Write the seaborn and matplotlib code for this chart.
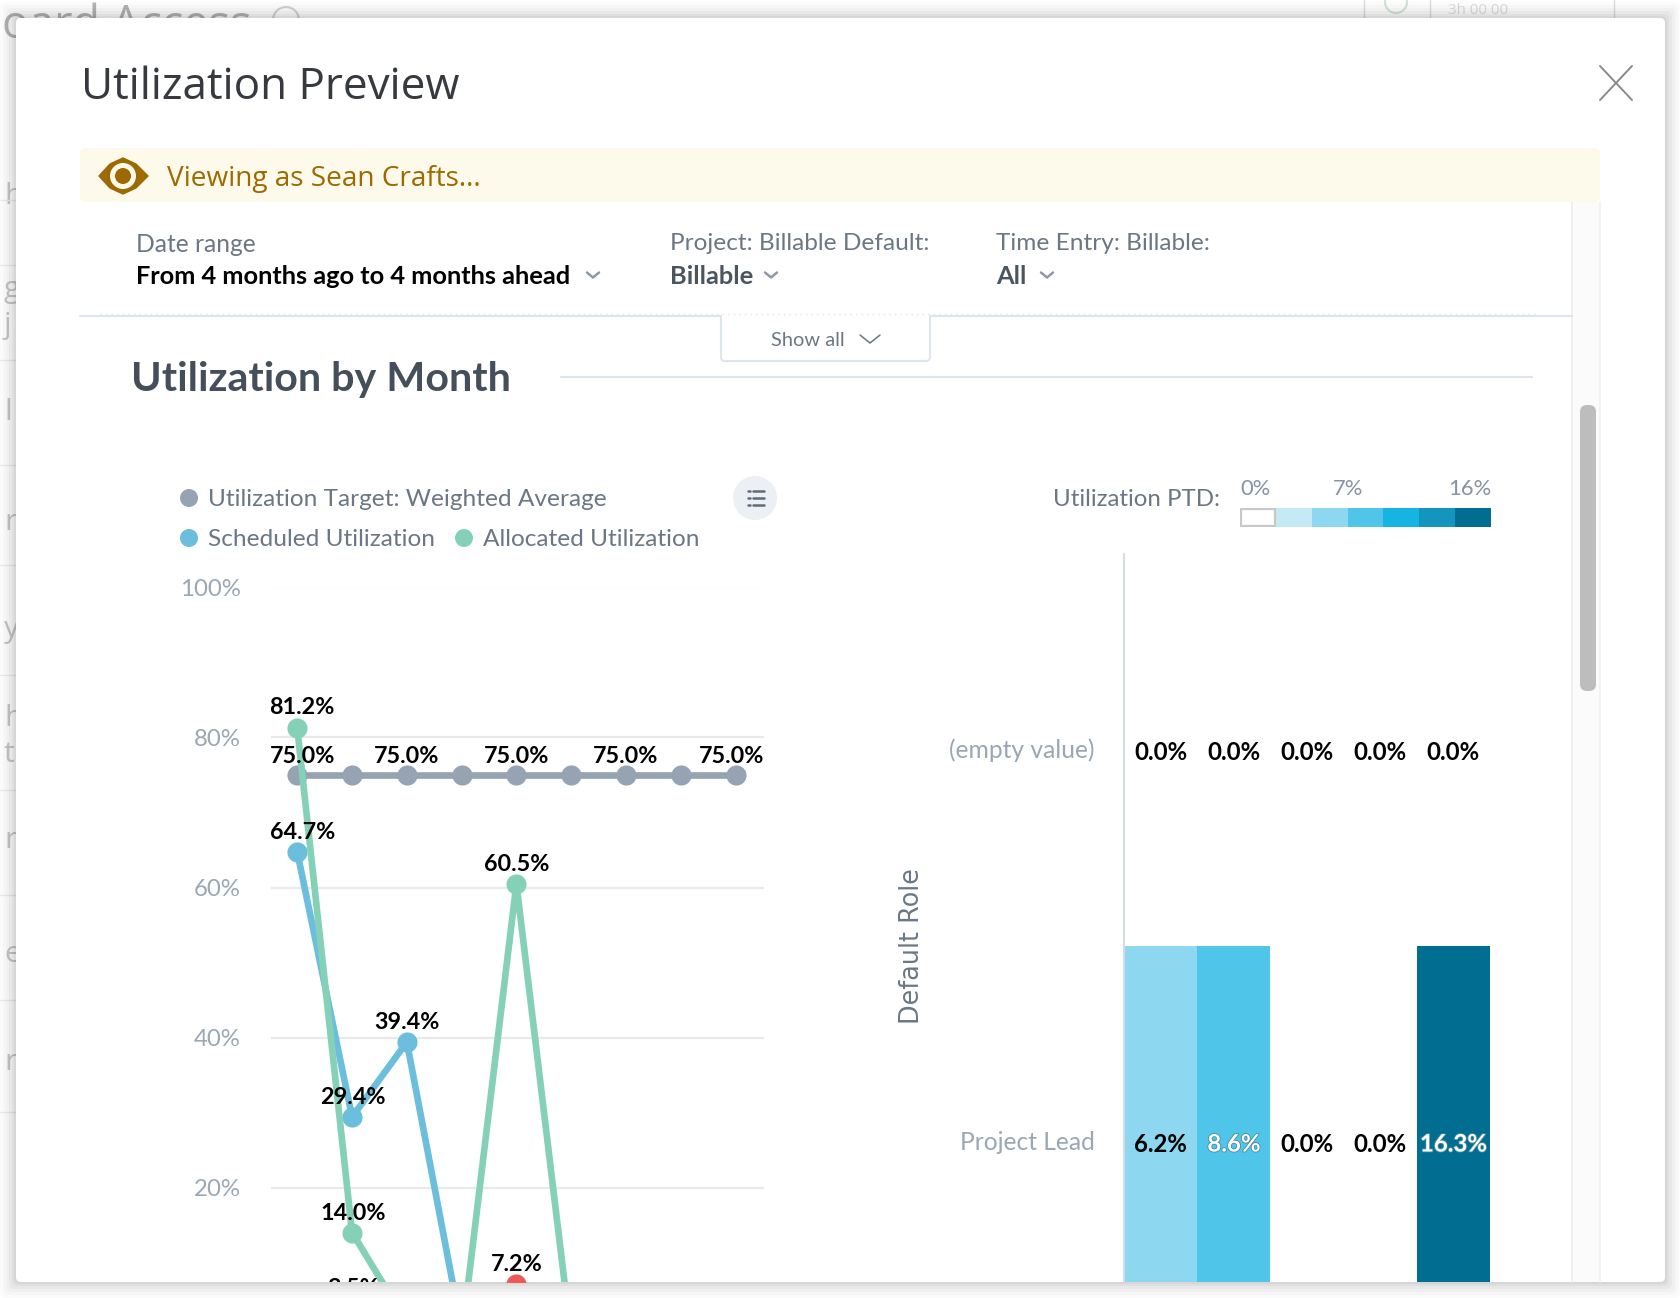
import numpy as np
import pandas as pd
import matplotlib
matplotlib.use("Agg")
import matplotlib.pyplot as plt
import matplotlib.patheffects as pe
from matplotlib.colors import ListedColormap
from matplotlib.patches import FancyBboxPatch, Rectangle, Circle, Polygon
import seaborn as sns

###################################### data ##############################################
months = list(range(9))
target = [75.0] * 9
scheduled = [64.7, 29.4, 39.4, 1.0, 0.0, 0.0, 0.0, 0.0, 0.0]   # tail is below the crop, estimated
allocated = [81.2, 14.0, 2.0, 0.0, 60.5, 0.0, 0.0, 0.0, 0.0]
under_months = [1, 4]
under_values = [3.5, 7.2]
series_names = ["Utilization Target: Weighted Average", "Scheduled Utilization", "Allocated Utilization"]

roles = ["(empty value)", "Project Lead"]
ptd_empty = [0.0, 0.0, 0.0, 0.0, 0.0]
ptd_lead = [6.2, 8.6, 0.0, 0.0, 16.3]
ptd_colors = ["#FFFFFF", "#C3EAF5", "#8DD7F0", "#50C5EA", "#16B4E2", "#1495BD", "#006D91"]
y_ticks = [20, 40, 60, 80, 100]

GREY, BLUE, GREEN, RED = "#95A3B3", "#6BBFDC", "#85D1B7", "#EC5B55"
W, H = 1680, 1298
px = 0.72  # font px -> pt at dpi 100

sns.set_theme(style="white")
plt.rcParams["font.family"] = ["Lato", "DejaVu Sans"]
fig = plt.figure(figsize=(W / 100, H / 100), dpi=100, facecolor="white")


def box(x0, y0, x1, y1):
    # pixel box (y down) to figure fraction
    return [x0 / W, 1 - y1 / H, (x1 - x0) / W, (y1 - y0) / H]


###################################### page + modal ##############################################
bg = fig.add_axes([0, 0, 1, 1], zorder=0)
bg.set_xlim(0, W)
bg.set_ylim(H, 0)
bg.axis("off")

# bits of the page behind the modal, all at zorder 0.5 so the modal covers them
bg.text(2, 38, "oard Access", fontsize=45 * px, color="#b4b4b4", family="Open Sans", va="baseline", zorder=0.5)
bg.add_patch(Circle((286, 20), 13, fill=False, ec="#d4d4d4", lw=1.5, zorder=0.5))
for y, s in zip([196, 290, 325, 412, 522, 630, 718, 755, 840, 955, 1062],
                ["h", "g", "j", "l", "r", "y", "h", "t", "r", "e", "r"]):
    bg.text(4, y, s, fontsize=30 * px, color="#c8c8c8", family="Open Sans", va="center", zorder=0.5)
for y in [200, 265, 360, 465, 565, 675, 790, 895, 1000, 1112]:
    bg.plot([0, 16], [y, y], color="#ededed", lw=1, zorder=0.5)
for x in [1364, 1430, 1614]:
    bg.plot([x, x], [0, 18], color="#dddddd", lw=1, zorder=0.5)
bg.add_patch(Circle((1396, 2), 11, fill=False, ec="#cfe8d8", lw=1.5, zorder=0.5))
bg.text(1448, 14, "3h 00 00", fontsize=15 * px, color="#dddddd", family="Open Sans", va="baseline", zorder=0.5)

# soft shadow around the modal
for grow, alpha in zip([16, 13, 10, 7, 4, 2], [0.015, 0.02, 0.025, 0.03, 0.035, 0.04]):
    bg.add_patch(FancyBboxPatch((16 - grow, 18 - grow), 1649 + 2 * grow, 1264 + 2 * grow,
                                boxstyle="round,pad=0,rounding_size=6", fc="black", ec="none", alpha=alpha))
bg.add_patch(FancyBboxPatch((16, 18), 1649, 1264, boxstyle="round,pad=0,rounding_size=5", fc="white", ec="none"))

bg.text(81, 88, "Utilization Preview", fontsize=44 * px, color="#363a3f", family="Open Sans", va="center")
bg.plot([1600, 1632], [66, 100], color="#8a8a8a", lw=1.4)
bg.plot([1632, 1600], [66, 100], color="#8a8a8a", lw=1.4)

# viewing banner
bg.add_patch(FancyBboxPatch((80, 148), 1520, 54, boxstyle="round,pad=0,rounding_size=6", fc="#FDFAEB", ec="none"))
eye = "#9C6A00"
bg.add_patch(Polygon([(99, 176), (110, 164), (123, 158), (136, 164), (148, 176), (136, 188), (123, 194), (110, 188)],
                     closed=True, fc=eye, ec=eye, lw=1, joinstyle="round"))
bg.add_patch(Circle((123, 176), 13, fc="#FDFAEB", ec="none"))
bg.add_patch(Circle((123, 176), 8, fc=eye, ec="none"))
bg.text(167, 179, "Viewing as Sean Crafts...", fontsize=28 * px, color=eye, family="Open Sans", va="center")

# scroll track
bg.add_patch(Rectangle((1572, 202), 28, 1080, fc="#FBFBFB", ec="none"))
bg.plot([1572, 1572], [202, 1282], color="#EDEDED", lw=1.2)
bg.plot([1600, 1600], [202, 1282], color="#F1F1F1", lw=1.2)
bg.add_patch(FancyBboxPatch((1580, 405), 16, 286, boxstyle="round,pad=0,rounding_size=7", fc="#BDBDBD", ec="none"))


def chevron(x, y, w=6, h=5, color="#8C99A8", lw=1.8):
    bg.plot([x - w, x, x + w], [y - h / 2, y + h / 2, y - h / 2], color=color, lw=lw)


# filters
label_color = "#6B7785"
bg.text(136, 244, "Date range", fontsize=24.6 * px, color=label_color, va="center")
bg.text(136, 276, "From 4 months ago to 4 months ahead", fontsize=25.4 * px, color="black", weight="bold", va="center")
chevron(593, 275)
bg.text(670, 244, "Project: Billable Default:", fontsize=24.4 * px, color=label_color, va="center")
bg.text(670, 276, "Billable", fontsize=25.4 * px, color="#4A5560", weight="bold", va="center")
chevron(771, 275)
bg.text(996, 244, "Time Entry: Billable:", fontsize=24.4 * px, color=label_color, va="center")
bg.text(996, 276, "All", fontsize=25.4 * px, color="#4A5560", weight="bold", va="center")
chevron(1047, 275)

# divider + show all tab
bg.add_patch(FancyBboxPatch((721, 300), 209, 61, boxstyle="round,pad=0,rounding_size=4", fc="white", ec="#DFE5EE", lw=1.5))
bg.add_patch(Rectangle((715, 280), 222, 36, fc="white", ec="none"))
bg.plot([80, 721], [316, 316], color="#DFE5EE", lw=1.5)
bg.plot([930, 1572], [316, 316], color="#DFE5EE", lw=1.5)
bg.plot([100, 1535], [314, 314], color="#DFE5EE", lw=1, ls=(0, (1, 3)))
bg.text(808, 341, "Show all", fontsize=20 * px, color="#6B7785", ha="center", va="center")
chevron(870, 339, w=10, h=8, color="#6B7785", lw=1.1)

bg.text(131, 379, "Utilization by Month", fontsize=41.3 * px, color="#454F5B", weight="bold", va="center")
bg.plot([561, 1532], [377, 377], color="#DFE5EE", lw=1.5)

# chart legend
legend_rows = [(189, 498, 208, series_names[0], GREY), (189, 538, 208, series_names[1], BLUE),
               (464, 538, 483, series_names[2], GREEN)]
for dot_x, dot_y, txt_x, name, col in legend_rows:
    bg.add_patch(Circle((dot_x, dot_y), 9, fc=col, ec="none"))
    bg.text(txt_x, dot_y + 1, name, fontsize=24.4 * px, color="#6B7785", va="center")
bg.add_patch(Circle((755, 498), 22, fc="#ECEFF4", ec="none"))
for yy in [491, 498, 505]:
    bg.plot([748, 750], [yy, yy], color="#5F6B7A", lw=1.8)
    bg.plot([753, 764], [yy, yy], color="#5F6B7A", lw=1.8)

# heat legend
bg.text(1220, 499, "Utilization PTD:", fontsize=24 * px, color="#6B7785", ha="right", va="center")
bg.text(1240, 489, "0%", fontsize=22 * px, color="#8593A3", va="center")
bg.text(1348, 489, "7%", fontsize=22 * px, color="#8593A3", ha="center", va="center")
bg.text(1491, 489, "16%", fontsize=22 * px, color="#8593A3", ha="right", va="center")
bg.text(912, 946, "Default Role", fontsize=25.5 * px, color="#6B7785", rotation=90, ha="center", va="center",
        family="DejaVu Sans")

###################################### line chart ##############################################
# 7.5 px per percent, the modal bottom cuts the plot
ax = fig.add_axes(box(271, 587.5, 764, 1282), zorder=2)
ax.patch.set_alpha(0)
long_df = pd.DataFrame({
    "month": months * 3,
    "value": target + scheduled + allocated,
    "series": [series_names[0]] * 9 + [series_names[1]] * 9 + [series_names[2]] * 9,
})
sns.lineplot(data=long_df, x="month", y="value", hue="series", palette=[GREY, BLUE, GREEN], hue_order=series_names,
             marker="o", markersize=14.5, markeredgewidth=0, linewidth=4.8, legend=False, ax=ax, zorder=3)
sns.scatterplot(x=under_months, y=under_values, color=RED, s=210, linewidth=0, ax=ax, zorder=4)
ax.set_xlim(-0.48, 8.52)
ax.set_ylim(7.4, 100)
ax.set_yticks(y_ticks)
ax.set_yticklabels([f"{t}%" for t in y_ticks], fontsize=24 * px, color="#9AA7B5")
ax.set_xticks([])
ax.set_xlabel("")
ax.set_ylabel("")
ax.tick_params(axis="y", length=0, pad=22)
ax.grid(axis="y", color="#E9E9E9", lw=1.6)
ax.set_axisbelow(True)
sns.despine(ax=ax, left=True, bottom=True)


def point_label(i, v, shift=0, up=15):
    ax.annotate(f"{v:.1f}%", (i, v), xytext=(shift * px, up), textcoords="offset points", ha="center",
                va="center", fontsize=23.4 * px, weight="bold", color="black", zorder=6,
                annotation_clip=False, clip_on=True)


for i in [0, 2, 4, 6, 8]:
    point_label(i, target[i], shift={0: 5, 8: -4}.get(i, 0), up=13.5)
point_label(0, allocated[0], shift=5, up=15)
point_label(0, scheduled[0], shift=5, up=14)
point_label(1, scheduled[1], shift=1, up=14)
point_label(2, scheduled[2], up=14)
point_label(1, allocated[1], shift=1, up=14)
point_label(4, allocated[4], up=14)
point_label(1, under_values[0], shift=1, up=16.5)
point_label(4, under_values[1], up=14)

###################################### heatmap ##############################################
hm = fig.add_axes(box(1124, 554, 1490, 1282), zorder=2)
heat_df = pd.DataFrame([ptd_empty, ptd_lead], index=roles)
annot = heat_df.map(lambda v: f"{v:.1f}%")
cmap = ListedColormap(ptd_colors)
sns.heatmap(heat_df, cmap=cmap, vmin=0, vmax=16.3, cbar=False, annot=annot, fmt="",
            annot_kws={"fontsize": 24 * px, "weight": "bold"}, xticklabels=False, ax=hm)
hm.set_ylim(728 / 392, 0)   # rows are 392 px tall, the second one runs off the modal
hm.set_yticks([0.5, 1.5])
hm.set_yticklabels(roles, rotation=0, fontsize=24.6 * px, color="#9AA7B5")
hm.tick_params(axis="y", length=0, pad=21)
hm.set_ylabel("")
hm.patch.set_alpha(0)
for txt in hm.texts:
    txt.set_y(txt.get_position()[1] + 2 / 392)
    if txt.get_text() in ("8.6%", "16.3%"):
        txt.set_color("white")
        txt.set_path_effects([pe.withStroke(linewidth=1.2, foreground="#4a8aa0")])
    else:
        txt.set_color("black")
hm.axvline(0, color="#D5DBE8", lw=1.5, clip_on=False)

leg = fig.add_axes(box(1240, 508, 1491, 527), zorder=2)
sns.heatmap([list(range(len(ptd_colors)))], cmap=cmap, cbar=False, xticklabels=False, yticklabels=False, ax=leg)
leg.add_patch(Rectangle((0.02, 0.06), 0.96, 0.88, fill=False, ec="#C8C8C8", lw=1.6))

fig.savefig("out.png", dpi=100)
